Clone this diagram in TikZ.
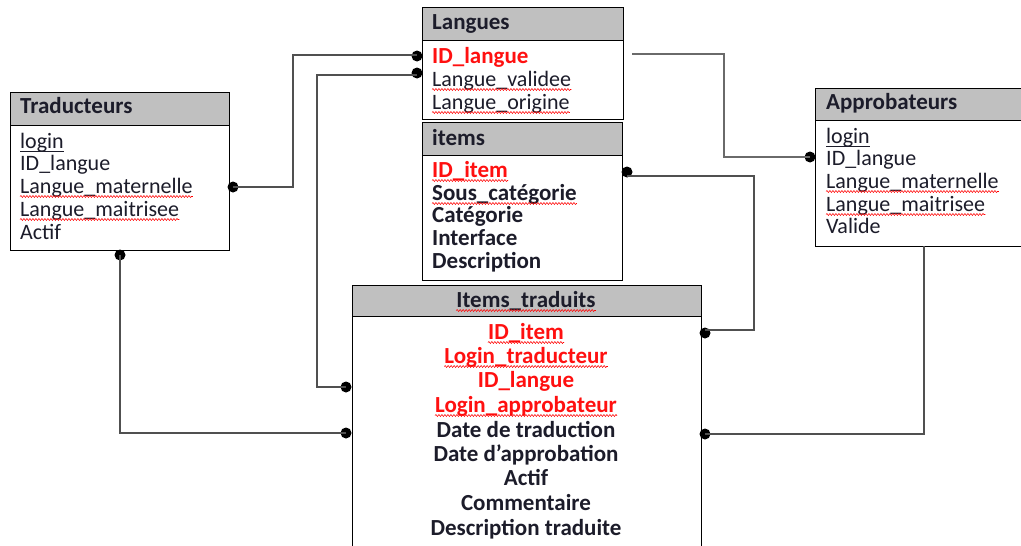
\documentclass[tikz,border=0pt]{standalone}
\usepackage{fontspec}
\setmainfont{Carlito}
\usetikzlibrary{decorations.pathmorphing}
\definecolor{ink}{HTML}{1C1C2A}
\definecolor{keyred}{HTML}{FF1010}
\definecolor{hdrgray}{HTML}{C0C0C0}
\definecolor{wire}{HTML}{505050}
\definecolor{wirelight}{HTML}{6A6A6A}
\newcommand\regfont{\fontsize{22}{24}\selectfont}
\newcommand\boldfont{\fontsize{23}{25}\selectfont\bfseries}
\tikzset{
  tbl/.style={draw=black, line width=1.4pt, fill=white, rectangle, inner sep=0pt, anchor=north west},
  hdr/.style={draw=black, line width=1.4pt, fill=hdrgray, rectangle, inner sep=0pt, anchor=north west},
  fld/.style={anchor=base west, inner sep=0pt, text=ink, font=\regfont},
  fldc/.style={anchor=base, inner sep=0pt, text=ink, font=\boldfont},
  ttl/.style={fld, font=\boldfont},
  key/.style={text=keyred, font=\boldfont},
  bold/.style={font=\boldfont},
  dot/.style={circle, fill=black, inner sep=0pt, minimum size=11pt},
  link/.style={draw=wire, line width=1.3pt},
  linklight/.style={draw=wirelight, line width=1.3pt},
  squig/.style={draw=red, line width=0.55pt, decorate, decoration={snake, amplitude=1pt, segment length=3pt}},
  uline/.style={draw=ink, line width=0.9pt}
}
\newcommand\squiggle[1]{\path[squig] ([yshift=-3.5pt]#1.base west) -- ([yshift=-3.5pt]#1.base east);}
\newcommand\uline[1]{\path[uline] ([yshift=-3pt]#1.base west) -- ([yshift=-3pt]#1.base east);}
\begin{document}
\begin{tikzpicture}[x=1pt, y=-1pt]
\useasboundingbox (0,0) rectangle (1021,546);
\clip (0,0) rectangle (1021,546);

% ---- Traducteurs ----
\node[tbl, minimum width=219pt, minimum height=158pt] (trad) at (10,92) {};
\node[hdr, minimum width=219pt, minimum height=33pt] (tradH) at (10,92) {};
\node[ttl] (tradT) at (20,113) {Traducteurs};
\node[fld] (tr1) at (20,148) {login};
\node[fld] (tr2) at (20,170) {ID\_langue};
\node[fld] (tr3) at (20,193) {Langue\_maternelle};
\node[fld] (tr4) at (20,216) {Langue\_maitrisee};
\node[fld] (tr5) at (20,239) {Actif};
\uline{tr1}
\squiggle{tr3}
\squiggle{tr4}

% ---- Langues ----
\node[tbl, minimum width=201pt, minimum height=112pt] (lang) at (422,7) {};
\node[hdr, minimum width=201pt, minimum height=33pt] (langH) at (422,7) {};
\node[ttl] (langT) at (432,29) {Langues};
\node[fld, key] (la1) at (432,63) {ID\_langue};
\node[fld] (la2) at (432,86) {Langue\_validee};
\node[fld] (la3) at (432,109) {Langue\_origine};
\squiggle{la2}
\squiggle{la3}

% ---- items ----
\node[tbl, minimum width=200pt, minimum height=158pt] (itm) at (422,122) {};
\node[hdr, minimum width=200pt, minimum height=33pt] (itmH) at (422,122) {};
\node[ttl] (itmT) at (432,145) {items};
\node[fld, key] (it1) at (432,177) {ID\_item};
\node[fld, bold] (it2) at (432,200) {Sous\_catégorie};
\node[fld, bold] (it3) at (432,222) {Catégorie};
\node[fld, bold] (it4) at (432,245) {Interface};
\node[fld, bold] (it5) at (432,268) {Description};
\squiggle{it1}
\squiggle{it2}

% ---- Approbateurs ----
\node[tbl, minimum width=220pt, minimum height=158pt] (appr) at (815,88) {};
\node[hdr, minimum width=220pt, minimum height=32pt] (apprH) at (815,88) {};
\node[ttl] (apprT) at (826,109) {Approbateurs};
\node[fld] (ap1) at (826,143) {login};
\node[fld] (ap2) at (826,165) {ID\_langue};
\node[fld] (ap3) at (826,188) {Langue\_maternelle};
\node[fld] (ap4) at (826,211) {Langue\_maitrisee};
\node[fld] (ap5) at (826,233) {Valide};
\uline{ap1}
\squiggle{ap3}
\squiggle{ap4}

% ---- Items_traduits ----
\node[tbl, minimum width=349pt, minimum height=280pt] (itr) at (352,285) {};
\node[hdr, minimum width=349pt, minimum height=31pt] (itrH) at (352,285) {};
\node[fldc] (itrT) at (526,307) {Items\_traduits};
\node[fldc, text=keyred] (ix1) at (526,339) {ID\_item};
\node[fldc, text=keyred] (ix2) at (526,363) {Login\_traducteur};
\node[fldc, text=keyred] (ix3) at (526,387) {ID\_langue};
\node[fldc, text=keyred] (ix4) at (526,412) {Login\_approbateur};
\node[fldc] (ix5) at (526,437) {Date de traduction};
\node[fldc] (ix6) at (526,461) {Date d’approbation};
\node[fldc] (ix7) at (526,485) {Actif};
\node[fldc] (ix8) at (526,510) {Commentaire};
\node[fldc] (ix9) at (526,535) {Description traduite};
\squiggle{itrT}
\squiggle{ix1}
\squiggle{ix2}
\squiggle{ix4}

% ---- connector end dots ----
\node[dot] (dTrR) at (233,187) {};
\node[dot] (dTrB) at (120,255) {};
\node[dot] (dLa1) at (417,56) {};
\node[dot] (dLa2) at (417,73) {};
\node[dot] (dIt) at (627,172) {};
\node[dot] (dAp) at (810,157) {};
\node[dot] (dX1) at (705,333) {};
\node[dot] (dX2) at (346,387) {};
\node[dot] (dX3) at (346,433) {};
\node[dot] (dX4) at (705,434) {};

% ---- bend points ----
\coordinate (kA) at (293,55);
\coordinate (kB) at (317,75);
\coordinate (kC) at (120,433);
\coordinate (kD) at (754,176);
\coordinate (kE0) at (632,54);
\coordinate (kE) at (724,54);
\coordinate (kF) at (924,246);

% ---- relations ----
\draw[link] (dTrR.center) -| (kA) -- (dLa1.center |- kA);
\draw[link] (dX2.center) -| (kB) -- (dLa2.center |- kB);
\draw[link] (dTrB.center) |- (dX3.center);
\draw[link] (dIt.center |- kD) -- (kD) |- (dX1.center |- 0,330);
\draw[linklight] (kE0) -- (kE) |- (dAp.center);
\draw[link] (kF) |- (dX4.center);
\end{tikzpicture}
\end{document}
